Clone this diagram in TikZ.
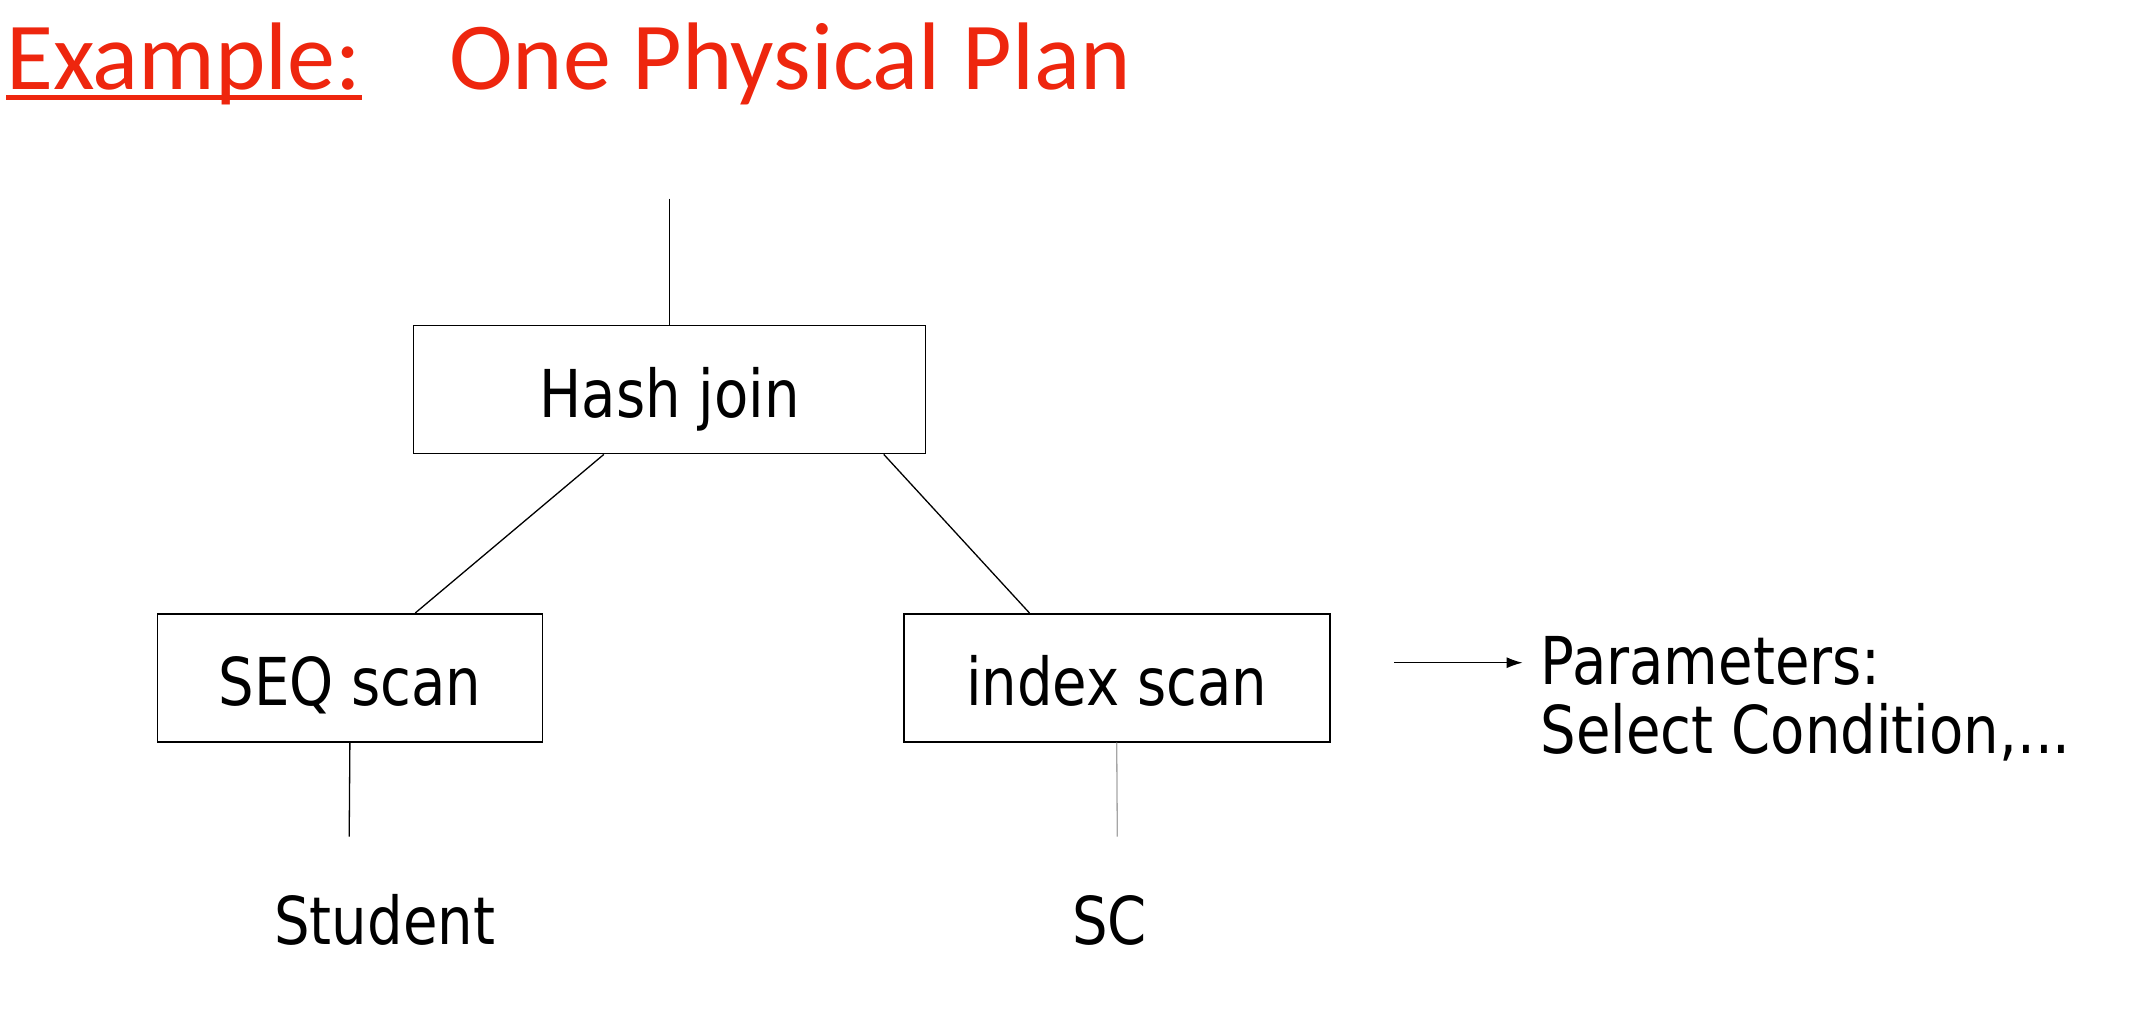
\documentclass[tikz,border=0pt]{standalone}
\usepackage{fontspec}
\usetikzlibrary{calc,arrows.meta}
\setmainfont{DejaVu Sans}[FakeStretch=0.85]
\newfontfamily\titlefont{Carlito}
\definecolor{titlered}{RGB}{238,38,14}
\begin{document}
\begin{tikzpicture}[x=1pt,y=-1pt,
  opbox/.style={draw=black,line width=1.6pt,minimum width=#1,minimum height=128pt,inner sep=0pt,
    text height=56pt,text depth=0pt,font=\fontsize{66}{70}\selectfont},
  conn/.style={line width=1.3pt,draw=black},
  lbl/.style={font=\fontsize{66}{70}\selectfont,inner sep=0pt}]
\useasboundingbox[fill=white] (0,0) rectangle (2147,1033);
% title
\node[anchor=base west,inner sep=0pt,text=titlered,font=\titlefont\fontsize{96}{100}\selectfont] (ex) at (6,89) {Example:};
\draw[titlered,line width=5pt] ($(ex.base west)+(0,8)$) coordinate (ul1) -- ($(ex.base east)+(0,8)$) coordinate (ul2);
\node[anchor=base west,inner sep=0pt,text=titlered,font=\titlefont\fontsize{96}{100}\selectfont] (title) at (449,89) {One Physical Plan};
% boxes
\node[opbox=512pt] (hash) at (669.6,389.6) {Hash join};
\node[opbox=385pt] (seq) at (349.9,677.8) {SEQ scan};
\node[opbox=426pt] (idx) at (1116.7,677.8) {index scan};
% top line
\coordinate (top) at (669.6,198.5);
\draw[conn] (top) -- (hash.north);
% branches
\draw[conn] ($(hash.south west)!0.372!(hash.south east)$) -- ($(seq.north west)!0.669!(seq.north east)$);
\draw[conn] ($(hash.south west)!0.917!(hash.south east)$) -- ($(idx.north west)!0.296!(idx.north east)$);
% leaves
\coordinate (seqend) at (349.2,836.6);
\coordinate (idxend) at (1117.3,836.6);
\draw[conn] (seq.south) -- (seqend);
\draw[conn,draw=gray!70] (idx.south) -- (idxend);
\node[lbl,anchor=base west] (student) at (274,944.8) {Student};
\node[lbl,anchor=base west] (sc) at (1072,944.8) {SC};
% parameters
\node[lbl,anchor=base west] (params) at (1540.5,684.6) {Parameters:};
\node[lbl,anchor=base west] (selcond) at (1540.5,753) {Select Condition,...};
\coordinate (arrstart) at (1394,662.7);
\coordinate (arrend) at (1522.6,662.7);
\draw[conn,-{Latex[length=16pt,width=11pt]}] (arrstart) -- (arrend);
\end{tikzpicture}
\end{document}
